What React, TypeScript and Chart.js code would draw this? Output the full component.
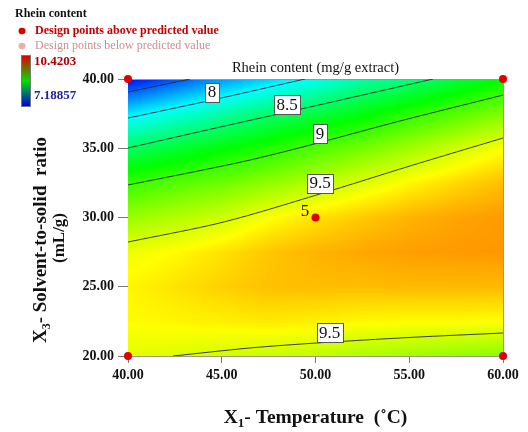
import React, { useEffect, useRef } from 'react';
import { Chart, registerables } from 'chart.js';

Chart.register(...registerables);

// ---- Data ----
const TEMP_GRID = [40, 42.5, 45, 47.5, 50, 52.5, 55, 57.5, 60];
const RATIO_GRID = [20, 22.5, 25, 27.5, 30, 32.5, 35, 37.5, 40];
const RHEIN_R20 = [9.53, 9.5, 9.47, 9.44, 9.41, 9.35, 9.31, 9.27, 9.24];
const RHEIN_R22_5 = [9.62, 9.64, 9.66, 9.68, 9.66, 9.63, 9.62, 9.62, 9.61];
const RHEIN_R25 = [9.64, 9.7, 9.76, 9.81, 9.82, 9.82, 9.83, 9.83, 9.83];
const RHEIN_R27_5 = [9.56, 9.62, 9.7, 9.79, 9.85, 9.89, 9.92, 9.93, 9.94];
const RHEIN_R30 = [9.29, 9.37, 9.46, 9.6, 9.7, 9.78, 9.85, 9.9, 9.93];
const RHEIN_R32_5 = [8.97, 9.07, 9.15, 9.26, 9.38, 9.51, 9.63, 9.73, 9.82];
const RHEIN_R35 = [8.5, 8.64, 8.78, 8.91, 9.05, 9.17, 9.31, 9.46, 9.6];
const RHEIN_R37_5 = [7.92, 8.1, 8.27, 8.46, 8.6, 8.76, 8.93, 9.07, 9.21];
const RHEIN_R40 = [7.22, 7.44, 7.67, 7.85, 8.05, 8.28, 8.42, 8.62, 8.8];
const RHEIN_ROWS = [RHEIN_R20, RHEIN_R22_5, RHEIN_R25, RHEIN_R27_5, RHEIN_R30, RHEIN_R32_5, RHEIN_R35, RHEIN_R37_5, RHEIN_R40];

const COLOR_MIN = 7.18857;
const COLOR_MAX = 10.4203;

const CONTOUR_7_5 = [{ x: 40, y: 39.06 }, { x: 43.31, y: 40 }];
const CONTOUR_8 = [{ x: 40, y: 37.18 }, { x: 44.48, y: 38.48 }, { x: 49.44, y: 40 }];
const CONTOUR_8_5 = [{ x: 40, y: 35.02 }, { x: 44.91, y: 36.53 }, { x: 49.71, y: 37.98 }, { x: 56.27, y: 40 }];
const CONTOUR_9 = [{ x: 40, y: 32.35 }, { x: 44.0, y: 33.43 }, { x: 46.51, y: 34.15 }, { x: 49.71, y: 35.23 }, { x: 54.51, y: 36.97 }, { x: 60, y: 38.84 }];
const CONTOUR_9_5_UPPER = [{ x: 40, y: 28.23 }, { x: 45.12, y: 29.68 }, { x: 50.24, y: 31.7 }, { x: 55.04, y: 33.72 }, { x: 60, y: 35.74 }];
const CONTOUR_9_5_LOWER = [{ x: 42.4, y: 20 }, { x: 46.51, y: 20.58 }, { x: 50.08, y: 20.94 }, { x: 55.04, y: 21.34 }, { x: 60, y: 21.66 }];

const LABEL_TEXT = ['8', '8.5', '9', '9.5', '9.5'];
const LABEL_TEMP = [44.48, 48.48, 50.24, 50.24, 50.75];
const LABEL_RATIO = [39.06, 38.16, 36.06, 32.49, 21.73];

const DESIGN_TEMP = [40, 60, 40, 60, 50];
const DESIGN_RATIO = [40, 40, 20, 20, 30];
const REPLICATE_TEXT = '5';
const REPLICATE_TEMP = 49.44;
const REPLICATE_RATIO = 30.4;

const X_TICKS = [40, 45, 50, 55, 60];
const Y_TICKS = [20, 25, 30, 35, 40];

const SERIF = "'Liberation Serif', 'Times New Roman', serif";

function colorFor(v: number): [number, number, number] {
  let t = (v - COLOR_MIN) / (COLOR_MAX - COLOR_MIN);
  t = Math.max(0, Math.min(1, t));
  const stops: [number, number, number][] = [
    [0, 0, 255],
    [0, 255, 255],
    [0, 255, 0],
    [255, 255, 0],
    [255, 0, 0],
  ];
  const s = t * 4;
  const i = Math.min(3, Math.floor(s));
  const f = s - i;
  const a = stops[i];
  const b = stops[i + 1];
  return [a[0] + (b[0] - a[0]) * f, a[1] + (b[1] - a[1]) * f, a[2] + (b[2] - a[2]) * f];
}

function sampleGrid(t: number, r: number): number {
  const nx = TEMP_GRID.length;
  const ny = RATIO_GRID.length;
  const dx = TEMP_GRID[1] - TEMP_GRID[0];
  const dy = RATIO_GRID[1] - RATIO_GRID[0];
  let fx = (t - TEMP_GRID[0]) / dx;
  let fy = (r - RATIO_GRID[0]) / dy;
  fx = Math.max(0, Math.min(nx - 1.0001, fx));
  fy = Math.max(0, Math.min(ny - 1.0001, fy));
  const i = Math.floor(fx);
  const j = Math.floor(fy);
  const u = fx - i;
  const w = fy - j;
  const z00 = RHEIN_ROWS[j][i];
  const z10 = RHEIN_ROWS[j][i + 1];
  const z01 = RHEIN_ROWS[j + 1][i];
  const z11 = RHEIN_ROWS[j + 1][i + 1];
  return z00 * (1 - u) * (1 - w) + z10 * u * (1 - w) + z01 * (1 - u) * w + z11 * u * w;
}

const heatmapPlugin = {
  id: 'heatmap',
  beforeDatasetsDraw(chart: any) {
    const { ctx, chartArea: ca, scales } = chart;
    const xs = scales.x;
    const ys = scales.y;
    const left = Math.round(ca.left);
    const top = Math.round(ca.top);
    const w = Math.round(ca.right) - left;
    const h = Math.round(ca.bottom) - top;
    const img = ctx.createImageData(w, h);
    for (let j = 0; j < h; j++) {
      const r = ys.getValueForPixel(top + j + 0.5);
      for (let i = 0; i < w; i++) {
        const t = xs.getValueForPixel(left + i + 0.5);
        const c = colorFor(sampleGrid(t, r));
        const k = (j * w + i) * 4;
        img.data[k] = c[0];
        img.data[k + 1] = c[1];
        img.data[k + 2] = c[2];
        img.data[k + 3] = 255;
      }
    }
    ctx.putImageData(img, left, top);
    ctx.save();
    ctx.strokeStyle = '#9a9a8a';
    ctx.lineWidth = 1;
    ctx.beginPath();
    ctx.moveTo(left, top + 0.5);
    ctx.lineTo(left + w + 0.5, top + 0.5);
    ctx.lineTo(left + w + 0.5, top + h);
    ctx.stroke();
    ctx.restore();
  },
};

function drawParts(ctx: CanvasRenderingContext2D, parts: { t: string; sub?: boolean }[], cx: number, cy: number, size: number, weight: string) {
  const mainFont = `${weight} ${size}px ${SERIF}`;
  const subFont = `${weight} ${Math.round(size * 0.65)}px ${SERIF}`;
  let total = 0;
  const widths = parts.map((p) => {
    ctx.font = p.sub ? subFont : mainFont;
    const m = ctx.measureText(p.t).width;
    total += m;
    return m;
  });
  let x = cx - total / 2;
  ctx.textAlign = 'left';
  ctx.textBaseline = 'middle';
  parts.forEach((p, idx) => {
    ctx.font = p.sub ? subFont : mainFont;
    ctx.fillText(p.t, x, p.sub ? cy + size * 0.3 : cy);
    x += widths[idx];
  });
}

const overlayPlugin = {
  id: 'overlay',
  afterDatasetsDraw(chart: any) {
    const { ctx, scales } = chart;
    const xs = scales.x;
    const ys = scales.y;
    ctx.save();
    ctx.font = `17px ${SERIF}`;
    ctx.textAlign = 'center';
    ctx.textBaseline = 'middle';
    LABEL_TEXT.forEach((txt, i) => {
      const px = xs.getPixelForValue(LABEL_TEMP[i]);
      const py = ys.getPixelForValue(LABEL_RATIO[i]);
      const tw = ctx.measureText(txt).width;
      const bw = Math.round(tw + 5);
      const bh = 19;
      const bx = Math.round(px - bw / 2) + 0.5;
      const by = Math.round(py - bh / 2) + 0.5;
      ctx.fillStyle = '#ffffff';
      ctx.fillRect(bx, by, bw, bh);
      ctx.strokeStyle = '#555555';
      ctx.lineWidth = 1;
      ctx.strokeRect(bx, by, bw, bh);
      ctx.fillStyle = '#111111';
      ctx.fillText(txt, px, py + 1);
    });
    ctx.fillStyle = '#111111';
    ctx.fillText(REPLICATE_TEXT, xs.getPixelForValue(REPLICATE_TEMP), ys.getPixelForValue(REPLICATE_RATIO));
    ctx.restore();
  },
  afterDraw(chart: any) {
    const { ctx, chartArea: ca } = chart;
    ctx.save();
    ctx.fillStyle = '#111111';
    ctx.font = `14.5px ${SERIF}`;
    ctx.textAlign = 'center';
    ctx.textBaseline = 'middle';
    ctx.fillText('Rhein content (mg/g extract)', (ca.left + ca.right) / 2, 68);

    ctx.fillStyle = '#111111';
    drawParts(ctx, [{ t: 'X' }, { t: '1', sub: true }, { t: '- Temperature  (˚C)' }], (ca.left + ca.right) / 2, 418, 19.5, 'bold');

    ctx.save();
    ctx.translate(41, 240);
    ctx.rotate(-Math.PI / 2);
    drawParts(ctx, [{ t: 'X' }, { t: '3', sub: true }, { t: '- Solvent-to-solid  ratio' }], 0, 0, 19, 'bold');
    ctx.restore();
    ctx.save();
    ctx.translate(60, 238);
    ctx.rotate(-Math.PI / 2);
    drawParts(ctx, [{ t: '(mL/g)' }], 0, 0, 17, 'bold');
    ctx.restore();

    ctx.textAlign = 'left';
    ctx.textBaseline = 'middle';
    ctx.fillStyle = '#111111';
    ctx.font = `bold 12px ${SERIF}`;
    ctx.fillText('Rhein content', 15, 14);

    ctx.fillStyle = '#e00000';
    ctx.beginPath();
    ctx.ellipse(22, 31, 3.5, 3.2, 0, 0, Math.PI * 2);
    ctx.fill();
    ctx.fillStyle = '#c80000';
    ctx.font = `bold 12px ${SERIF}`;
    ctx.fillText('Design points above predicted value', 35, 31);

    ctx.fillStyle = '#eab0b0';
    ctx.beginPath();
    ctx.ellipse(22, 46, 3.5, 3.2, 0, 0, Math.PI * 2);
    ctx.fill();
    ctx.fillStyle = '#c89090';
    ctx.font = `12px ${SERIF}`;
    ctx.fillText('Design points below predicted value', 35, 46);

    const g = ctx.createLinearGradient(0, 56, 0, 106);
    g.addColorStop(0, '#e00000');
    g.addColorStop(0.5, '#00e000');
    g.addColorStop(1, '#0000e0');
    ctx.fillStyle = g;
    ctx.fillRect(22, 56, 8, 50);
    ctx.strokeStyle = '#777777';
    ctx.lineWidth = 1;
    ctx.strokeRect(21.5, 55.5, 9, 51);

    ctx.font = `bold 13px ${SERIF}`;
    ctx.fillStyle = '#b00000';
    ctx.fillText(COLOR_MAX.toString(), 34, 62);
    ctx.fillStyle = '#2020a0';
    ctx.fillText(COLOR_MIN.toString(), 34, 96);
    ctx.restore();
  },
};

export default function App() {
  const canvasRef = useRef<HTMLCanvasElement | null>(null);

  useEffect(() => {
    const canvas = canvasRef.current;
    if (!canvas) return;
    const lineDs = (data: { x: number; y: number }[]) => ({
      type: 'line' as const,
      data,
      showLine: true,
      borderColor: '#2a2a2a',
      borderWidth: 0.9,
      pointRadius: 0,
      tension: 0.3,
      fill: false,
      order: 2,
    });
    const chart = new Chart(canvas, {
      type: 'scatter',
      data: {
        datasets: [
          {
            type: 'scatter',
            data: DESIGN_TEMP.map((t, i) => ({ x: t, y: DESIGN_RATIO[i] })),
            pointRadius: 4,
            pointBackgroundColor: '#e00000',
            pointBorderColor: '#e00000',
            borderWidth: 0,
            clip: false as any,
            order: 0,
          } as any,
          lineDs(CONTOUR_7_5),
          lineDs(CONTOUR_8),
          lineDs(CONTOUR_8_5),
          lineDs(CONTOUR_9),
          lineDs(CONTOUR_9_5_UPPER),
          lineDs(CONTOUR_9_5_LOWER),
        ] as any,
      },
      options: {
        animation: false,
        responsive: false,
        layout: { padding: { left: 0, top: 79, right: 25, bottom: 0 } },
        plugins: { legend: { display: false }, tooltip: { enabled: false }, title: { display: false } },
        scales: {
          x: {
            type: 'linear',
            min: 40,
            max: 60,
            afterBuildTicks: (scale: any) => {
              scale.ticks = X_TICKS.map((v) => ({ value: v }));
            },
            afterFit: (scale: any) => {
              scale.height = 76;
            },
            ticks: {
              callback: (v: any) => Number(v).toFixed(2),
              font: { family: SERIF, size: 14, weight: 'bold' },
              color: '#111111',
              padding: 4,
              maxRotation: 0,
            },
            grid: { drawOnChartArea: false, drawTicks: true, tickLength: 7, color: '#777777' },
            border: { display: true, color: '#9a9a8a' },
          },
          y: {
            type: 'linear',
            min: 20,
            max: 40,
            afterBuildTicks: (scale: any) => {
              scale.ticks = Y_TICKS.map((v) => ({ value: v }));
            },
            afterFit: (scale: any) => {
              scale.width = 128;
            },
            ticks: {
              callback: (v: any) => Number(v).toFixed(2),
              font: { family: SERIF, size: 14, weight: 'bold' },
              color: '#111111',
              padding: 4,
            },
            grid: { drawOnChartArea: false, drawTicks: true, tickLength: 10, color: '#777777' },
            border: { display: true, color: '#9a9a8a' },
          },
        },
      } as any,
      plugins: [heatmapPlugin, overlayPlugin],
    });
    return () => chart.destroy();
  }, []);

  return (
    <div style={{ position: 'absolute', left: 0, top: 0, width: 528, height: 432, background: '#ffffff' }}>
      <canvas ref={canvasRef} width={528} height={432} style={{ display: 'block' }} />
    </div>
  );
}
